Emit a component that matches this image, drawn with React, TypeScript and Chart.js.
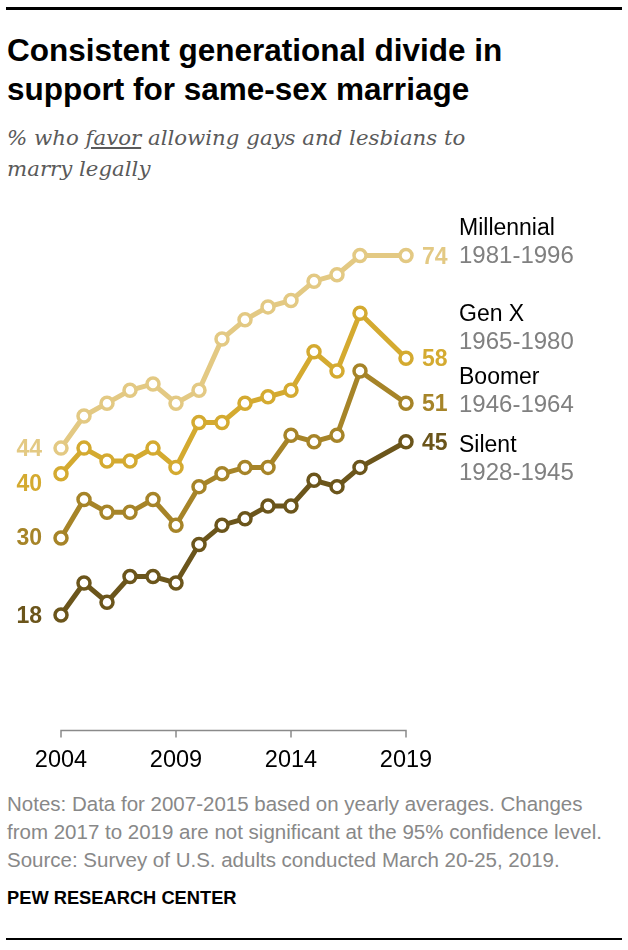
import React, { useEffect, useRef } from "react";
import { Chart, registerables } from "chart.js";

Chart.register(...registerables);

// ---------- data ----------
const years = [
  "2004", "2005", "2006", "2007", "2008", "2009", "2010", "2011",
  "2012", "2013", "2014", "2015", "2016", "2017", "2018", "2019",
];
const millennial = [44, 49, 51, 53, 54, 51, 53, 61, 64, 66, 67, 70, 71, 74, null, 74];
const genX = [40, 44, 42, 42, 44, 41, 48, 48, 51, 52, 53, 59, 56, 65, null, 58];
const boomer = [30, 36, 34, 34, 36, 32, 38, 40, 41, 41, 46, 45, 46, 56, null, 51];
const silent = [18, 23, 20, 24, 24, 23, 29, 32, 33, 35, 35, 39, 38, 41, null, 45];
const seriesNames = ["Millennial", "Gen X", "Boomer", "Silent"];
const cohortYears = ["1981-1996", "1965-1980", "1946-1964", "1928-1945"];
const xTickLabels = ["2004", "2009", "2014", "2019"];

// ---------- styles ----------
const colors = ["#E3C983", "#D4AA30", "#A68428", "#6B551B"];
const SANS = '"Liberation Sans", Arial, sans-serif';
// offsets (px) for annotation placement relative to first/last points
const leftLabelDy = [0, 9, -1, 0];
const legendNameDy = [-21, -37, -19, 10];
const legendGap = 28;

const labelPlugin = {
  id: "pewLabels",
  afterDatasetsDraw(chart: any) {
    const { ctx, scales } = chart;
    const x = scales.x;
    const y = scales.y;
    ctx.save();

    // x axis line with ticks hanging down
    const yb = y.getPixelForValue(0);
    const xl = x.getPixelForValue(0);
    const xr = x.getPixelForValue(years.length - 1);
    ctx.strokeStyle = "#8a8a8a";
    ctx.lineWidth = 1.5;
    ctx.beginPath();
    ctx.moveTo(xl, yb);
    ctx.lineTo(xr, yb);
    xTickLabels.forEach((lbl) => {
      const px = x.getPixelForValue(years.indexOf(lbl));
      ctx.moveTo(px, yb - 0.75);
      ctx.lineTo(px, yb + 7);
    });
    ctx.stroke();

    ctx.fillStyle = "#000";
    ctx.font = `23.5px ${SANS}`;
    ctx.textAlign = "center";
    ctx.textBaseline = "alphabetic";
    xTickLabels.forEach((lbl) => {
      const px = x.getPixelForValue(years.indexOf(lbl));
      ctx.fillText(lbl, px, yb + 36);
    });

    // value labels and legend
    chart.data.datasets.forEach((ds: any, i: number) => {
      const data = ds.data as (number | null)[];
      const first = data[0] as number;
      const lastIdx = data.length - 1;
      const last = data[lastIdx] as number;
      ctx.fillStyle = colors[i];
      ctx.font = `bold 23px ${SANS}`;
      // left
      ctx.textAlign = "right";
      ctx.fillText(
        String(first),
        x.getPixelForValue(0) - 19,
        y.getPixelForValue(first) + leftLabelDy[i] + 8
      );
      // right
      const lx = x.getPixelForValue(lastIdx);
      const ly = y.getPixelForValue(last);
      ctx.textAlign = "left";
      ctx.fillText(String(last), lx + 16, ly + 8);

      // legend
      const nx = lx + 53;
      const ny = ly + legendNameDy[i];
      ctx.fillStyle = "#000";
      ctx.font = `23px ${SANS}`;
      ctx.fillText(seriesNames[i], nx, ny);
      ctx.fillStyle = "#808080";
      ctx.font = `24px ${SANS}`;
      ctx.fillText(cohortYears[i], nx, ny + legendGap);
    });
    ctx.restore();
  },
};

function makeDataset(label: string, data: (number | null)[], color: string) {
  return {
    label,
    data,
    borderColor: color,
    backgroundColor: color,
    borderWidth: 5,
    pointRadius: 6,
    pointHoverRadius: 6,
    pointBorderWidth: 3.5,
    pointBackgroundColor: "#ffffff",
    pointBorderColor: color,
    spanGaps: true,
    tension: 0,
    clip: false as any,
  };
}

export default function App() {
  const canvasRef = useRef<HTMLCanvasElement | null>(null);

  useEffect(() => {
    if (!canvasRef.current) return;
    const chart = new Chart(canvasRef.current, {
      type: "line",
      data: {
        labels: years,
        datasets: [
          makeDataset(seriesNames[0], millennial, colors[0]),
          makeDataset(seriesNames[1], genX, colors[1]),
          makeDataset(seriesNames[2], boomer, colors[2]),
          makeDataset(seriesNames[3], silent, colors[3]),
        ],
      },
      options: {
        responsive: false,
        animation: false,
        layout: { padding: { left: 61, right: 222, top: 17, bottom: 49.4 } },
        plugins: {
          legend: { display: false },
          tooltip: { enabled: false },
          title: { display: false },
        },
        scales: {
          x: { display: false, offset: false },
          y: { display: false, min: 0, max: 80 },
        },
      },
      plugins: [labelPlugin],
    });
    return () => chart.destroy();
  }, []);

  return (
    <div
      style={{
        position: "absolute",
        left: 0,
        top: 0,
        width: 628,
        height: 950,
        background: "#fff",
        fontFamily: SANS,
        overflow: "hidden",
      }}
    >
      <div style={{ position: "absolute", left: 6, top: 7, width: 616, height: 2.5, background: "#000" }} />
      <div
        style={{
          position: "absolute",
          left: 7,
          top: 31,
          width: 615,
          fontSize: 31.5,
          lineHeight: "39px",
          fontWeight: "bold",
          color: "#000",
        }}
      >
        Consistent generational divide in
        <br />
        support for same-sex marriage
      </div>
      <div
        style={{
          position: "absolute",
          left: 7,
          top: 122,
          width: 615,
          fontFamily: '"DejaVu Serif", serif',
          fontStyle: "italic",
          fontSize: 21.3,
          lineHeight: "31px",
          color: "#5a5a5a",
          whiteSpace: "nowrap",
        }}
      >
        % who <span style={{ textDecoration: "underline" }}>favor</span> allowing gays and lesbians to
        <br />
        marry legally
      </div>
      <canvas
        ref={canvasRef}
        width={628}
        height={580}
        style={{ position: "absolute", left: 0, top: 200, width: 628, height: 580 }}
      />
      <div
        style={{
          position: "absolute",
          left: 7,
          top: 790,
          width: 620,
          fontSize: 20.5,
          lineHeight: "28px",
          color: "#888",
          whiteSpace: "nowrap",
        }}
      >
        Notes: Data for 2007-2015 based on yearly averages. Changes
        <br />
        from 2017 to 2019 are not significant at the 95% confidence level.
        <br />
        Source: Survey of U.S. adults conducted March 20-25, 2019.
      </div>
      <div
        style={{
          position: "absolute",
          left: 7,
          top: 888,
          fontSize: 18.3,
          lineHeight: "20px",
          fontWeight: "bold",
          color: "#000",
        }}
      >
        PEW RESEARCH CENTER
      </div>
      <div style={{ position: "absolute", left: 6, top: 938, width: 616, height: 2, background: "#000" }} />
    </div>
  );
}
